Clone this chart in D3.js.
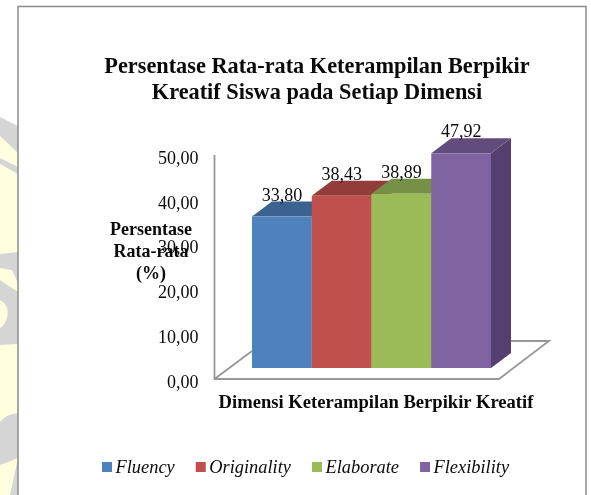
<!DOCTYPE html>
<html>
<head>
<meta charset="utf-8">
<script src="https://d3js.org/d3.v7.min.js"></script>
<style>
  html, body { margin: 0; padding: 0; background: #fff; }
  svg { display: block; filter: blur(0.35px); }
  text { font-family: "Liberation Serif", serif; fill: #0a0a0a; }
</style>
</head>
<body>
<svg width="591" height="495"></svg>
<script>
const categories = ['Fluency', 'Originality', 'Elaborate', 'Flexibility'];
const values = [33.80, 38.43, 38.89, 47.92];
const valueLabels = ['33,80', '38,43', '38,89', '47,92'];
const ticks = [0, 10, 20, 30, 40, 50];
const frontColors = ['#4f81bd', '#c0504d', '#9bbb59', '#8064a2'];
const topColors = ['#3c6291', '#933d3a', '#779047', '#614c7b'];
const sideColors = ['#355780', '#813533', '#697e3e', '#553f6e'];
const titleLines = ['Persentase Rata-rata Keterampilan Berpikir', 'Kreatif Siswa pada Setiap Dimensi'];
const yTitleLines = ['Persentase', 'Rata-rata', '(%)'];
const xTitle = 'Dimensi Keterampilan Berpikir Kreatif';

const svg = d3.select('svg');

// page background behind the chart box (watermark on the left edge)
svg.append('path').attr('fill', '#ffffdf')
  .attr('d', 'M0,117L18,126L18,495L0,495Z');
const watermark = [
  'M0,117L18,126L18,153L0,136Z',
  'M0,158L18,167L18,174L0,164Z',
  'M0,254L18,252L18,283L12,270L0,268Z',
  'M0,280L18,292L18,344L0,345L0,328Q4,326 7,318Q10,305 0,300Z',
  'M18,413Q6,414 0,422L0,465L18,458Z',
  'M18,458L10,495L18,495Z'
];
svg.append('g').selectAll('path').data(watermark).enter().append('path')
  .attr('fill', '#d5d5d5').attr('d', d => d);

// chart box
svg.append('rect').attr('x', 18).attr('y', 6.5).attr('width', 568).attr('height', 500)
  .attr('fill', '#fff').attr('stroke', '#8c8c8c').attr('stroke-width', 1.5);

const yScale = d3.scaleLinear().domain([0, 50]).range([379, 155]);
const xScale = d3.scaleBand().domain(categories).range([252, 491]);

// floor + back wall edge
const floor = d3.path();
floor.moveTo(214.5, 155); floor.lineTo(214.5, 379); floor.lineTo(499, 379);
floor.lineTo(549, 341); floor.lineTo(510, 341);
floor.moveTo(214.5, 379); floor.lineTo(252, 351);
svg.append('path').attr('d', floor.toString()).attr('fill', 'none')
  .attr('stroke', '#979797').attr('stroke-width', 1.8);

// bars, shifted from the axis plane
const shift = 11, depthX = 20, depthY = 15;
const bars = svg.append('g').attr('transform', `translate(0, ${-shift})`);
const bar = bars.selectAll('g').data(categories).enter().append('g');

bar.append('path').attr('fill', (d, i) => sideColors[i])
  .attr('d', (d, i) => {
    const x = xScale(d) + xScale.bandwidth(), y = yScale(values[i]), y0 = yScale(0);
    return `M${x},${y}L${x + depthX},${y - depthY}L${x + depthX},${y0 - depthY}L${x},${y0}Z`;
  });
bar.append('path').attr('fill', (d, i) => topColors[i])
  .attr('d', (d, i) => {
    const x = xScale(d), w = xScale.bandwidth(), y = yScale(values[i]);
    return `M${x},${y}L${x + depthX},${y - depthY}L${x + w + depthX},${y - depthY}L${x + w},${y}Z`;
  });
bar.append('rect').attr('fill', (d, i) => frontColors[i])
  .attr('x', d => xScale(d)).attr('width', xScale.bandwidth())
  .attr('y', (d, i) => yScale(values[i]))
  .attr('height', (d, i) => yScale(0) - yScale(values[i]));

// value labels
svg.append('g').selectAll('text').data(categories).enter().append('text')
  .attr('x', d => xScale(d) + xScale.bandwidth() / 2)
  .attr('y', (d, i) => yScale(values[i]) - shift - depthY - 1)
  .attr('text-anchor', 'middle').attr('font-size', 18)
  .text((d, i) => valueLabels[i]);

// y axis labels
const yAxis = d3.axisLeft(yScale).tickValues(ticks).tickSize(0).tickPadding(16)
  .tickFormat(d => d3.format('.2f')(d).replace('.', ','));
const axisG = svg.append('g').attr('transform', 'translate(214.5, 2.5)').call(yAxis);
axisG.select('.domain').remove();
axisG.selectAll('text').attr('font-size', 18).attr('font-family', '"Liberation Serif", serif').attr('fill', '#0a0a0a');

// titles
svg.append('g').selectAll('text').data(titleLines).enter().append('text')
  .attr('x', 317).attr('y', (d, i) => 73 + i * 26)
  .attr('text-anchor', 'middle').attr('font-size', 22.3).attr('font-weight', 'bold')
  .text(d => d);
svg.append('g').selectAll('text').data(yTitleLines).enter().append('text')
  .attr('x', 151).attr('y', (d, i) => 235 + i * 22)
  .attr('text-anchor', 'middle').attr('font-size', 18).attr('font-weight', 'bold')
  .text(d => d);
svg.append('text').attr('x', 376).attr('y', 408).attr('text-anchor', 'middle')
  .attr('font-size', 18.6).attr('font-weight', 'bold').text(xTitle);

// legend, laid out one after the other from the text widths
let legendX = 102;
const legend = svg.append('g').selectAll('g').data(categories).enter().append('g');
legend.append('rect').attr('y', 462).attr('width', 10).attr('height', 10).attr('fill', (d, i) => frontColors[i]);
legend.append('text').attr('x', 13.5).attr('y', 473).attr('font-size', 18.4).attr('font-style', 'italic').text(d => d);
legend.each(function() {
  const g = d3.select(this);
  g.attr('transform', `translate(${legendX}, 0)`);
  legendX += 13.5 + g.select('text').node().getComputedTextLength() + 21;
});
</script>
</body>
</html>
